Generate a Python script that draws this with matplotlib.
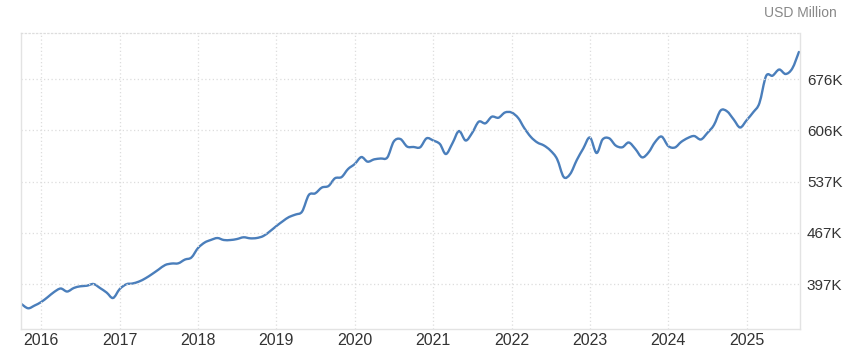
import matplotlib
matplotlib.use("Agg")
import matplotlib.pyplot as plt
import matplotlib.dates as mdates
from matplotlib.path import Path
from matplotlib.patches import PathPatch
import pandas as pd

# monthly values, Oct 2015 .. Sep 2025 (USD million, thousands)
dates = pd.date_range("2015-10-01", "2025-09-01", freq="MS")
values = [
    369.8, 364.0, 367.7,
    372.5, 379.3, 386.1, 390.9, 386.8, 391.6, 393.9, 394.7, 397.0, 391.6, 385.4, 378.0,
    390.2, 396.7, 397.7, 400.4, 404.8, 410.6, 416.7, 422.9, 424.9, 425.2, 430.3, 433.1,
    446.0, 453.5, 456.9, 459.6, 456.9, 456.9, 458.2, 460.6, 459.2, 459.6, 462.3, 468.5,
    475.9, 482.7, 488.2, 491.6, 495.7, 518.1, 520.4, 528.3, 530.4, 540.9, 542.6, 553.5,
    560.3, 569.8, 563.5, 566.7, 567.8, 569.2, 590.9, 594.3, 584.1, 583.5, 583.1, 595.3,
    592.3, 587.5, 573.9, 588.9, 605.2, 592.3, 602.5, 617.9, 615.7, 624.7, 623.3, 630.4,
    630.4, 622.9, 609.3, 597.1, 589.6, 585.5, 578.7, 567.1, 542.6, 546.7, 565.8, 581.4,
    596.4, 575.3, 593.7, 595.3, 585.5, 583.1, 589.6, 580.7, 569.4, 576.0, 590.3, 597.7,
    584.8, 582.8, 590.3, 595.7, 598.4, 593.7, 602.5, 613.4, 633.1, 632.0, 620.9, 610.0,
    620.2, 631.1, 643.3, 680.1, 680.5, 688.9, 682.8, 690.3, 712.8,
]

year_ticks = [str(y) for y in range(2016, 2026)]
y_ticks = [397, 466.75, 536.5, 606.25, 676]
y_labels = ["397K", "467K", "537K", "606K", "676K"]

plt.rcParams["font.family"] = ["Liberation Sans", "DejaVu Sans"]

fig = plt.figure(figsize=(8.56, 3.57), dpi=100)
ax = fig.add_axes([21 / 856, 28 / 357, 779 / 856, 296 / 357])

# smooth spline-like line through the monthly points (catmull-rom -> bezier)
xs = list(mdates.date2num(dates))
ys = values
verts = [(xs[0], ys[0])]
codes = [Path.MOVETO]
n = len(xs)
for i in range(n - 1):
    x0, y0 = (xs[i - 1], ys[i - 1]) if i > 0 else (xs[i], ys[i])
    x1, y1 = xs[i], ys[i]
    x2, y2 = xs[i + 1], ys[i + 1]
    x3, y3 = (xs[i + 2], ys[i + 2]) if i + 2 < n else (x2, y2)
    verts += [(x1 + (x2 - x0) / 6, y1 + (y2 - y0) / 6),
              (x2 - (x3 - x1) / 6, y2 - (y3 - y1) / 6),
              (x2, y2)]
    codes += [Path.CURVE4] * 3
ax.add_patch(PathPatch(Path(verts, codes), facecolor="none", edgecolor="#4a7ebb",
                       linewidth=1.7, joinstyle="round", capstyle="round"))

ax.set_xlim(pd.Timestamp("2015-09-29"), pd.Timestamp("2025-09-06"))
ax.set_ylim(335.8, 738.6)

ax.set_xticks([pd.Timestamp(y + "-01-01") for y in year_ticks])
ax.set_xticklabels(year_ticks)
ax.set_yticks(y_ticks)
ax.set_yticklabels(y_labels)
ax.yaxis.tick_right()

ax.tick_params(axis="both", length=0, labelsize=11, labelcolor="#333333")
ax.tick_params(axis="x", pad=3, labelsize=11.5)
ax.tick_params(axis="y", pad=5)

ax.grid(True, color="#dddddd", linestyle=(0, (1, 2)), linewidth=0.9)

for side in ["left", "right", "bottom"]:
    ax.spines[side].set_color("#e3e3e3")
    ax.spines[side].set_linewidth(1.0)
ax.spines["top"].set_color("#dddddd")
ax.spines["top"].set_linestyle((0, (1, 2)))
ax.spines["top"].set_linewidth(0.9)

fig.text(837 / 856, 1 - 13 / 357, "USD Million", ha="right", va="center",
         fontsize=10, color="#888888")

fig.savefig("out.png", dpi=100)
